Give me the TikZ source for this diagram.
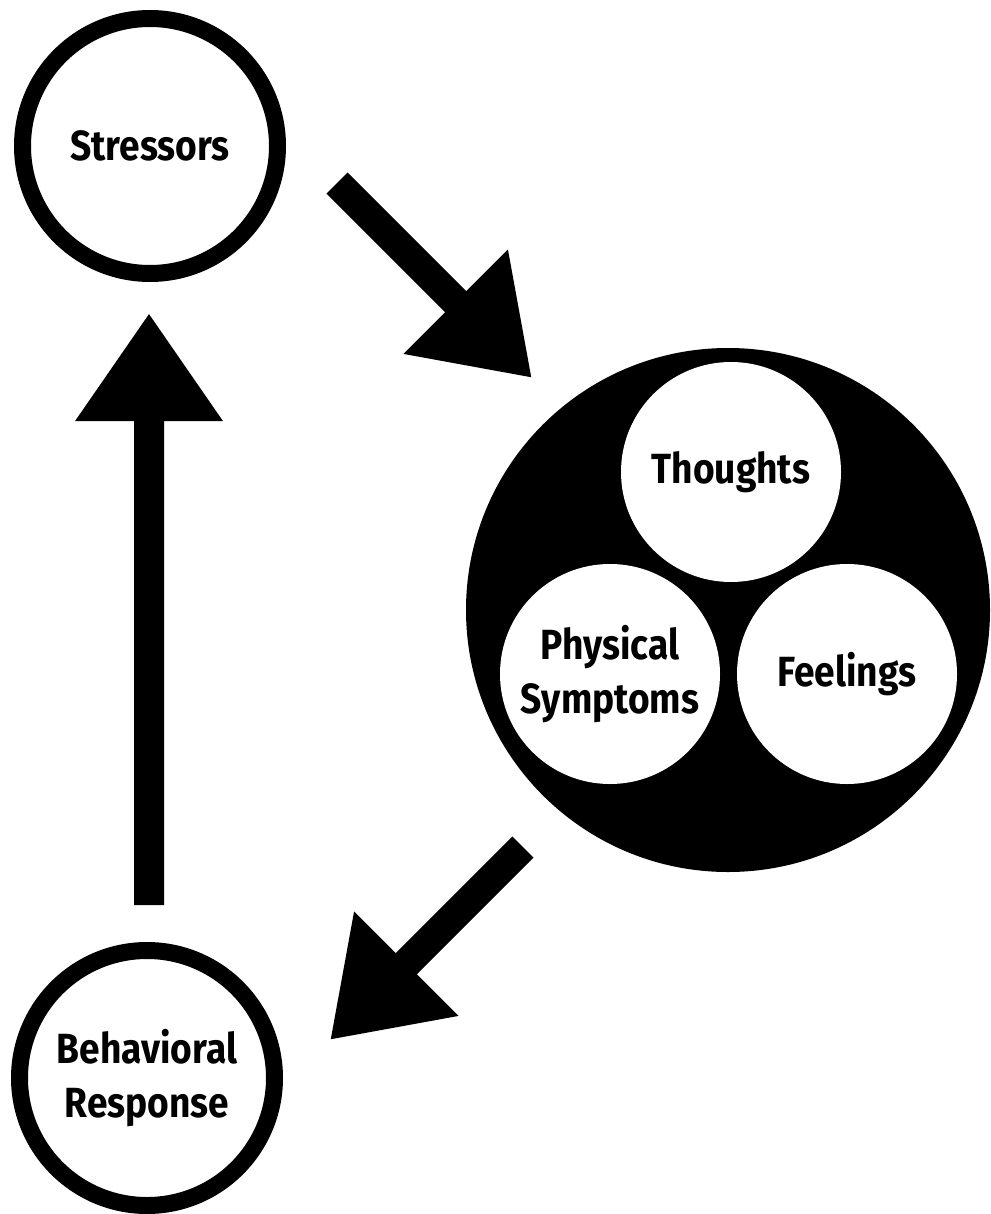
\documentclass[tikz,border=0pt]{standalone}
\usepackage{fontspec}
\setmainfont{Fira Sans}[FakeStretch=0.88]
\usepackage{tikz}
\usetikzlibrary{arrows.meta, positioning, calc}
\tikzstyle{ring} = [circle, minimum size=5.1cm, inner sep=0pt, draw=black, line width=0.34cm, fill=white, font=\fontsize{24pt}{31pt}\selectfont\bfseries, align=center]
\tikzstyle{mind} = [circle, minimum size=10.48cm, inner sep=0pt, fill=black]
\tikzstyle{part} = [circle, minimum size=4.4cm, inner sep=0pt, fill=white, font=\fontsize{24pt}{31pt}\selectfont\bfseries, align=center]
\tikzstyle{arrow} = [line width=0.6cm, line join=round, -{Triangle[length=2.16cm, width=2.8cm]}]

\begin{document}
\begin{tikzpicture}
\useasboundingbox (0,0) rectangle (19.8,-24.28);
\node (stressors) [ring] at (3.0,-2.92) {Stressors};
\node (behav) [ring] at (2.94,-21.56) {Behavioral\\Response};
\node (mind) [mind] at (14.56,-12.2) {};
\node (thoughts) [part] at (14.62,-9.44) {Thoughts};
\node (physical) [part] at (12.2,-13.48) {Physical\\Symptoms};
\node (feelings) [part] at (16.94,-13.48) {Feelings};

\draw [arrow] ([shift={(3.74,-0.74)}]stressors.center) -- ([shift={(-3.92,4.64)}]mind.center);
\draw [arrow] ([shift={(-4.1,-4.74)}]mind.center) -- ([shift={(3.66,0.76)}]behav.center);
\draw [arrow] ([shift={(0.04,3.46)}]behav.center) -- ([shift={(-0.02,-3.34)}]stressors.center);
\end{tikzpicture}
\end{document}
